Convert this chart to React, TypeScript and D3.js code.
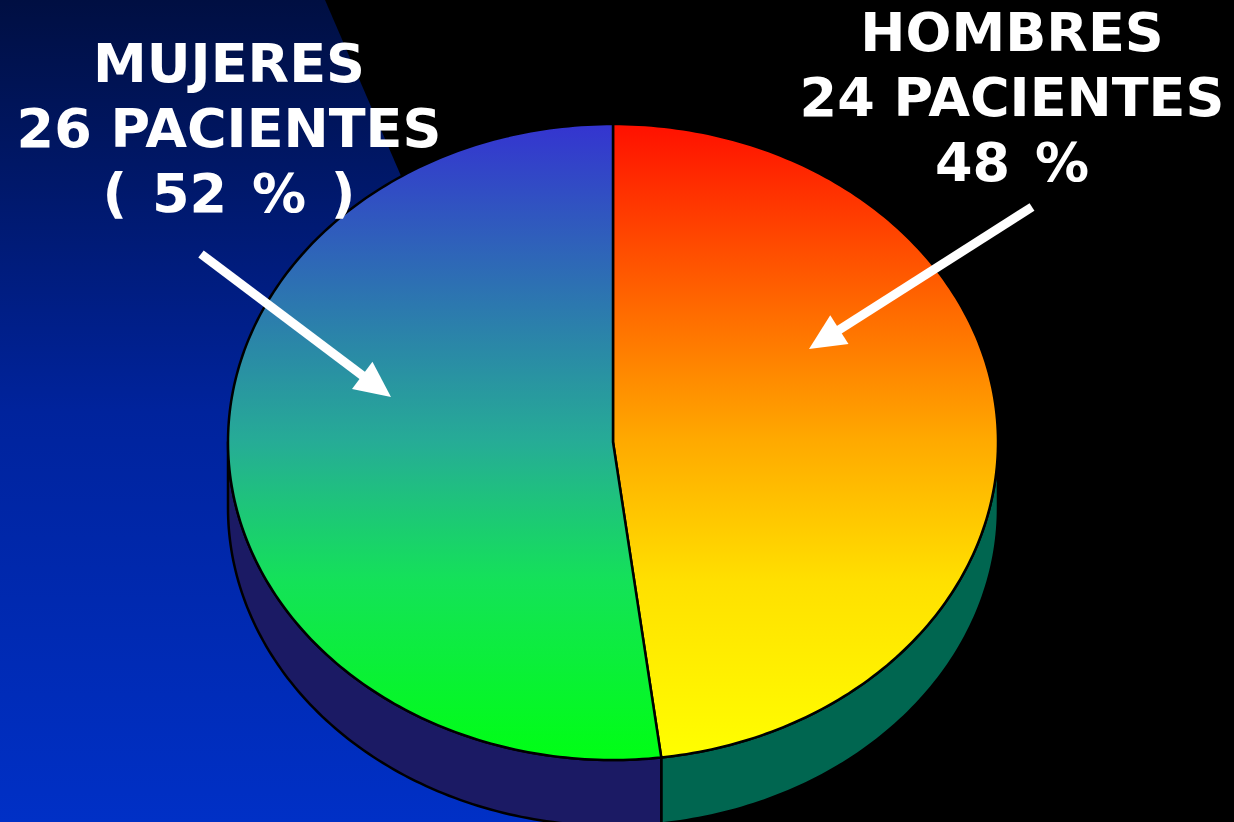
import { useMemo } from 'react';
import * as d3 from 'd3';

// data
const categories = ['HOMBRES', 'MUJERES'];
const patients = [24, 26];
const unitLabel = 'PACIENTES';

const W = 1234;
const H = 822;

type Pt = [number, number];

const App = () => {
    const cx = 613, cy = 442, rx = 385, ry = 318, depth = 66;

    const slices = useMemo(() => {
        const pie = d3.pie<number>().sort(null).value(d => d);
        return pie(patients);
    }, []);
    const total = d3.sum(patients);

    // point on the (flattened) pie rim, angle clockwise from 12 o'clock
    const rim = (a: number, dy = 0): Pt => [cx + rx * Math.sin(a), cy - ry * Math.cos(a) + dy];
    const line = d3.line<Pt>();

    const topPath = (a0: number, a1: number) => {
        const n = Math.max(8, Math.ceil((a1 - a0) * 60));
        const pts: Pt[] = d3.range(n + 1).map(i => rim(a0 + (a1 - a0) * i / n));
        return line([[cx, cy], ...pts]) + 'Z';
    };

    // only the front half of the cylinder wall is visible
    const sidePath = (a0: number, a1: number) => {
        const b0 = Math.max(a0, Math.PI / 2);
        const b1 = Math.min(a1, Math.PI * 1.5);
        if (b0 >= b1) return null;
        const n = Math.max(8, Math.ceil((b1 - b0) * 60));
        const angles = d3.range(n + 1).map(i => b0 + (b1 - b0) * i / n);
        const upper: Pt[] = angles.map(a => rim(a));
        const lower: Pt[] = angles.slice().reverse().map(a => rim(a, depth));
        return line([...upper, ...lower]) + 'Z';
    };

    const topFill = ['url(#gradMen)', 'url(#gradWomen)'];
    const sideFill = ['#006650', '#1b1a64'];

    // label blocks and arrows (layout)
    const labelPos = [
        { x: 1012, y: 51 },
        { x: 229, y: 82 },
    ];
    const arrows: { from: Pt; to: Pt }[] = [
        { from: [1032, 207], to: [809, 349] },
        { from: [201, 254], to: [391, 397] },
    ];

    const labelLines = (i: number) => {
        const pct = Math.round((patients[i] / total) * 100);
        const pctText = categories[i] === 'MUJERES' ? `( ${pct} % )` : `${pct} %`;
        return [categories[i], `${patients[i]} ${unitLabel}`, pctText];
    };

    const arrowShape = (from: Pt, to: Pt) => {
        const dx = to[0] - from[0], dy = to[1] - from[1];
        const len = Math.hypot(dx, dy);
        const ux = dx / len, uy = dy / len;
        const headLen = 36, halfW = 17;
        const bx = to[0] - ux * headLen, by = to[1] - uy * headLen;
        const nx = -uy, ny = ux;
        return {
            shaft: line([from, [bx + ux * 2, by + uy * 2]]) as string,
            head: line([to, [bx + nx * halfW, by + ny * halfW], [bx - nx * halfW, by - ny * halfW]]) + 'Z',
        };
    };

    return (
        <svg width={W} height={H} style={{ position: 'absolute', left: 0, top: 0, display: 'block' }}>
            <defs>
                <linearGradient id="bgBlue" x1="0" y1="0" x2="0" y2={H} gradientUnits="userSpaceOnUse">
                    <stop offset="0" stopColor="#000f42" />
                    <stop offset="0.5" stopColor="#00239c" />
                    <stop offset="1" stopColor="#0030c6" />
                </linearGradient>
                <linearGradient id="gradMen" x1="0" y1={cy - ry} x2="0" y2={cy + ry} gradientUnits="userSpaceOnUse">
                    <stop offset="0" stopColor="#ff1000" />
                    <stop offset="0.5" stopColor="#ffaa00" />
                    <stop offset="0.72" stopColor="#ffe000" />
                    <stop offset="1" stopColor="#ffff00" />
                </linearGradient>
                <linearGradient id="gradWomen" x1="0" y1={cy - ry} x2="0" y2={cy + ry} gradientUnits="userSpaceOnUse">
                    <stop offset="0" stopColor="#3434d0" />
                    <stop offset="0.5" stopColor="#26ac96" />
                    <stop offset="0.72" stopColor="#14e258" />
                    <stop offset="1" stopColor="#00ff14" />
                </linearGradient>
            </defs>

            <rect x={0} y={0} width={W} height={H} fill="#000" />
            <path d={line([[0, 0], [325, 0], [680, H], [0, H]]) + 'Z'} fill="url(#bgBlue)" />

            <g stroke="#000" strokeWidth={2.5} strokeLinejoin="round">
                {slices.map((s, i) => {
                    const d = sidePath(s.startAngle, s.endAngle);
                    return d ? <path key={'side' + i} d={d} fill={sideFill[i]} /> : null;
                })}
                {slices.map((s, i) => (
                    <path key={'top' + i} d={topPath(s.startAngle, s.endAngle)} fill={topFill[i]} />
                ))}
            </g>

            {arrows.map((a, i) => {
                const { shaft, head } = arrowShape(a.from, a.to);
                return (
                    <g key={'arrow' + i}>
                        <path d={shaft} stroke="#fff" strokeWidth={9} fill="none" />
                        <path d={head} fill="#fff" />
                    </g>
                );
            })}

            {labelPos.map((p, i) => (
                <text key={'lab' + i} x={p.x} y={p.y} fill="#fff" textAnchor="middle"
                    fontFamily="'DejaVu Sans', Verdana, sans-serif" fontWeight="bold" fontSize={54}>
                    {labelLines(i).map((t, j) => (
                        <tspan key={j} x={p.x} y={p.y + j * 65} wordSpacing={j === 2 ? 6 : 0}>{t}</tspan>
                    ))}
                </text>
            ))}
        </svg>
    );
};

export default App;
